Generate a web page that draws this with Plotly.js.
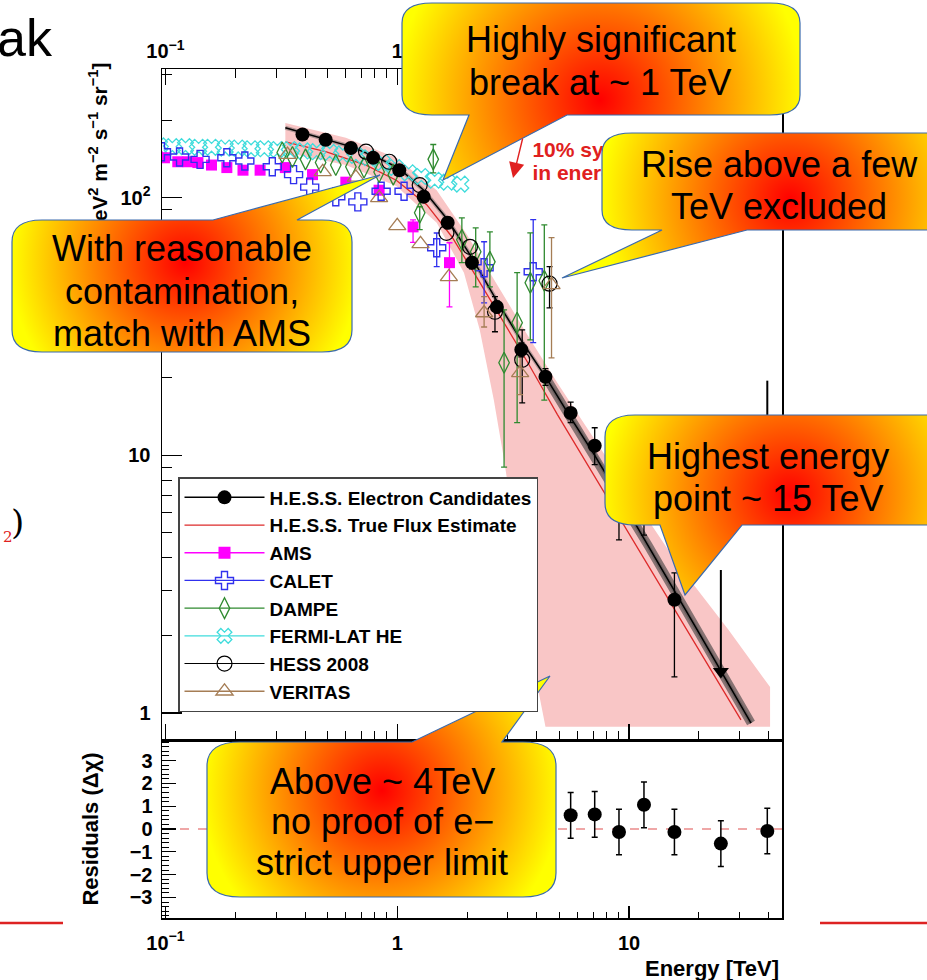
<!DOCTYPE html>
<html><head><meta charset="utf-8">
<script src="https://cdn.plot.ly/plotly-3.0.1.min.js"></script>
<style>html,body{margin:0;padding:0;background:#fff;}#chart{width:927px;height:980px;}</style>
</head><body><div id="chart"></div>
<script>
// ================= DATA =================
// H.E.S.S. electron candidates
const hessE = [0.390, 0.491, 0.631, 0.787, 1.02, 1.30, 1.65, 2.10, 2.69, 3.43, 4.36, 5.60, 7.11, 9.05, 11.6, 15.7];
const hessF = [176, 168, 156, 143, 128, 101, 80.0, 56.0, 37.7, 25.7, 20.2, 14.6, 10.9, 6.55, 5.9, 2.75];
const hessErrUp = [8, 7.5, 7, 6.5, 6, 5, 4, 3, 2, 1.6, 1.5, 1.5, 1.9, 2.3, 2.0, 0.75];
const hessErrDn = [8, 7.5, 7, 6.5, 6, 5, 4, 3, 2, 1.6, 1.5, 1.2, 1.7, 1.85, 1.0, 1.37];
// H.E.S.S. upper limits (arrows)
const hessUlE = [24.9, 39.5];
const hessUlFrom = [3.59, 19.5];
const hessUlTo = [1.45, 7.35];
// H.E.S.S. fit (black line) and true flux estimate (red line)
const fitE = [0.329, 0.390, 0.491, 0.631, 0.811, 1.02, 1.30, 1.65, 2.10, 2.69, 3.43, 4.36, 5.60, 7.11, 9.05, 12.1, 20.0, 33.6];
const fitF = [187, 179, 169, 158, 144, 130, 107, 82.2, 58.5, 39.8, 27.9, 20.2, 14.0, 10.0, 6.97, 4.46, 2.05, 0.914];
const trueE = [0.329, 0.491, 0.733, 0.99, 1.34, 1.72, 2.21, 2.83, 3.64, 4.91, 7.33, 12.1, 20.0, 30.4];
const trueF = [165, 151, 134, 117, 94.0, 70.6, 48.9, 33.6, 23.1, 14.4, 7.89, 3.72, 1.76, 0.94];
// systematic band (pink)
const sysUpperE = [0.329, 0.600, 0.99, 1.48, 2.0, 2.69, 3.64, 4.91, 8.96, 16.3, 26.9, 40.6];
const sysUpperF = [195, 171, 143, 107, 71.8, 45.9, 29.4, 19.1, 8.40, 3.76, 2.10, 1.26];
const sysLowerE = [40.6, 4.36, 3.90, 3.49, 3.16, 2.89, 2.61, 2.27, 1.94, 1.48, 0.99, 0.600, 0.329];
const sysLowerF = [0.883, 0.883, 1.47, 2.75, 5.62, 9.62, 16.4, 30.7, 51.2, 80, 111, 134, 150];
// AMS
const amsE = [0.0923, 0.099, 0.113, 0.125, 0.138, 0.158, 0.184, 0.216, 0.256, 0.329, 0.431, 0.600, 0.835, 1.17, 1.68];
const amsF = [144, 143, 138, 138, 137, 134, 131, 128, 128, 131, 123, 115, 107, 77.1, 56.0];
const amsErrUp = [NaN, NaN, NaN, NaN, NaN, NaN, NaN, NaN, NaN, NaN, NaN, NaN, NaN, 5, 10.9];
const amsErrDn = [NaN, NaN, NaN, NaN, NaN, NaN, NaN, NaN, NaN, NaN, NaN, NaN, NaN, 10, 18.3];
// CALET
const calE = [0.0961, 0.115, 0.141, 0.184, 0.220, 0.289, 0.357, 0.419, 0.543, 0.676, 0.852, 1.07, 1.48, 2.37, 3.86];
const calF = [151, 144, 141, 143, 139, 132, 123, 110, 101, 96.4, 106, 106, 64.0, 53.5, 51.6];
const calErrUp = [NaN, NaN, NaN, NaN, NaN, NaN, NaN, NaN, NaN, NaN, NaN, NaN, 9, 14, 30.6];
const calErrDn = [NaN, NaN, NaN, NaN, NaN, NaN, NaN, NaN, NaN, NaN, NaN, NaN, 10, 14.4, 24.2];
// DAMPE
const dampeE = [0.319, 0.353, 0.402, 0.467, 0.543, 0.631, 0.719, 0.835, 0.961, 1.25, 1.43, 1.90, 2.18, 2.51, 2.89, 3.29, 3.75, 4.31];
const dampeF = [150, 144, 141, 137, 134, 132, 131, 126, 123, 87.5, 141, 68.7, 61.7, 56.4, 22.9, 32.7, 46.8, 47.6];
const dampeErrUp = [NaN, NaN, NaN, NaN, NaN, NaN, NaN, NaN, NaN, 4.8, 20, 14.9, 14.7, 17.4, 13.8, 18.5, 26.3, 30.9];
const dampeErrDn = [NaN, NaN, NaN, NaN, NaN, NaN, NaN, NaN, NaN, 12.3, 16, 12.7, 16.6, 11.3, 13.9, 19.3, 18.7, 31.2];
// FERMI-LAT HE
const fermiE = [0.0942, 0.107, 0.122, 0.139, 0.158, 0.181, 0.206, 0.234, 0.267, 0.304, 0.346, 0.394, 0.449, 0.511, 0.582, 0.663, 0.755, 0.861, 0.980, 1.12, 1.27, 1.45, 1.65, 1.88];
const fermiF = [159, 158, 158, 157, 157, 156, 156, 155, 155, 154, 154, 152, 151, 150, 148, 146, 143, 137, 131, 125, 121, 117, 115, 113];
// HESS 2008
const hess08E = [0.733, 0.923, 1.25, 1.63, 2.06, 2.64, 3.46, 4.54];
const hess08F = [151, 138, 112, 73.1, 64.5, 36.1, 23.5, 46.4];
const hess08ErrUp = [NaN, NaN, NaN, NaN, NaN, 5.2, 7.2, 7.6];
const hess08ErrDn = [NaN, NaN, NaN, NaN, NaN, 5.9, 7.5, 9.0];
// VERITAS
const veritasE = [0.336, 0.477, 0.663, 0.835, 1.0, 1.26, 1.67, 2.37, 3.39, 4.63];
const veritasF = [147, 126, 120, 100, 77.8, 66.2, 49.3, 35.7, 20.9, 45.9];
const veritasErrUp = [NaN, NaN, NaN, NaN, NaN, NaN, NaN, 5.6, 3.6, 24.1];
const veritasErrDn = [NaN, NaN, NaN, NaN, NaN, NaN, NaN, 4.2, 3.7, 22.0];
// Residuals
const resE = [5.60, 7.11, 9.05, 11.6, 15.7, 24.9, 39.5];
const resV = [0.60, 0.64, -0.13, 1.06, -0.13, -0.64, -0.09];
const resErr = [1.0, 1.0, 1.0, 1.0, 1.0, 1.0, 1.0];
// labels
const legendNames = ['H.E.S.S. Electron Candidates', 'H.E.S.S. True Flux Estimate', 'AMS', 'CALET', 'DAMPE', 'FERMI-LAT HE', 'HESS 2008', 'VERITAS'];
const xTickVals = [0.1, 1, 10];
const xTickText = ['10<sup>−1</sup>', '1', '10'];
const yTickVals = [1, 10, 100];
const yTickText = ['1', '10', '10<sup>2</sup>'];
const resTickVals = [-3, -2, -1, 0, 1, 2, 3];
const resTickText = ['−3', '−2', '−1', '0', '1', '2', '3'];
const yTitleText = 'E<sup>3</sup> dN/dE [GeV<sup>2</sup> m<sup>−2</sup> s<sup>−1</sup> sr<sup>−1</sup>]';
const sysNoteE = [3.83, 3.83];
const sysNoteF = [151, 123];
const sysNoteText = ['10% systematic', 'in energy scale'];

// ================= STYLE / LAYOUT =================
const FONT = 'Liberation Sans, Arial, Helvetica, sans-serif';
const ML = 162, MR = 145, MT = 69, MB = 62, W = 927, H = 980;
const PW = W - ML - MR, PH = H - MT - MB;
const X = px => (px - ML) / PW;
const Y = py => (H - MB - py) / PH;
const split = Y(740);

const minorX = [];
[0.1, 1, 10].forEach(d => { for (let k = 2; k <= 9; k++) { const v = k * d; if (v < 46) minorX.push(+v.toPrecision(3)); } });
const minorY = [];
[1, 10, 100].forEach(d => { for (let k = 2; k <= 9; k++) { const v = k * d; if (v < 320) minorY.push(v); } });

const C = {
  hess: '#000000', red: '#dd2a2a', ams: '#ff00ff', calet: '#3030ee', dampe: '#2f8a2f',
  fermi: '#3fdcdc', hess08: '#000000', veritas: '#a57d55', band: '#f9c6c6'
};
function eb(up, dn, color, w) {
  return {type: 'data', symmetric: false, array: up, arrayminus: dn, color: color, thickness: 1.3, width: w};
}
const traces = [];
traces.push({x: sysUpperE.concat(sysLowerE), y: sysUpperF.concat(sysLowerF), mode: 'lines', fill: 'toself',
  fillcolor: C.band, line: {width: 0, color: C.band}, showlegend: false, hoverinfo: 'skip'});
traces.push({x: fitE, y: fitF, mode: 'lines', line: {color: 'rgba(90,90,90,0.45)', width: 4}, showlegend: false, hoverinfo: 'skip'});
traces.push({x: fitE.slice(11), y: fitF.slice(11), mode: 'lines', line: {color: 'rgba(60,60,60,0.6)', width: 9}, showlegend: false, hoverinfo: 'skip'});
traces.push({x: trueE, y: trueF, mode: 'lines', line: {color: C.red, width: 1.3}, showlegend: false});
traces.push({x: fitE, y: fitF, mode: 'lines', line: {color: '#000', width: 1.5}, showlegend: false});
traces.push({x: fermiE, y: fermiF, mode: 'markers', marker: {symbol: 'x-open', size: 14, color: C.fermi, line: {width: 1.3, color: C.fermi}}, showlegend: false});
traces.push({x: amsE, y: amsF, mode: 'markers', marker: {symbol: 'square', size: 11, color: C.ams}, error_y: eb(amsErrUp, amsErrDn, C.ams, 3), showlegend: false});
traces.push({x: calE, y: calF, mode: 'markers', marker: {symbol: 'cross-open', size: 15, color: C.calet, line: {width: 1.4, color: C.calet}}, error_y: eb(calErrUp, calErrDn, C.calet, 3), showlegend: false});
traces.push({x: dampeE, y: dampeF, mode: 'markers', marker: {symbol: 'diamond-tall-open', size: 15, color: C.dampe, line: {width: 1.3, color: C.dampe}}, error_y: eb(dampeErrUp, dampeErrDn, C.dampe, 3), showlegend: false});
traces.push({x: hess08E, y: hess08F, mode: 'markers', marker: {symbol: 'circle-open', size: 15, color: C.hess08, line: {width: 1.2, color: C.hess08}}, error_y: eb(hess08ErrUp, hess08ErrDn, C.hess08, 3), showlegend: false});
traces.push({x: veritasE, y: veritasF, mode: 'markers', marker: {symbol: 'triangle-up-open', size: 15, color: C.veritas, line: {width: 1.3, color: C.veritas}}, error_y: eb(veritasErrUp, veritasErrDn, C.veritas, 3), showlegend: false});
traces.push({x: hessE, y: hessF, mode: 'markers', marker: {symbol: 'circle', size: 14, color: '#000'}, error_y: eb(hessErrUp, hessErrDn, '#000', 3), showlegend: false});
const ulX = [], ulY = [];
hessUlE.forEach((e, i) => { ulX.push(e, e, null); ulY.push(hessUlFrom[i], hessUlTo[i], null); });
traces.push({x: ulX, y: ulY, mode: 'lines', line: {color: '#000', width: 2}, showlegend: false, connectgaps: false});
traces.push({x: hessUlE, y: hessUlTo, mode: 'markers', marker: {symbol: 'triangle-down', size: 14, color: '#000'}, showlegend: false});
traces.push({x: sysNoteE, y: sysNoteF, mode: 'text', text: sysNoteText, textposition: 'middle right',
  textfont: {family: FONT, size: 21, color: '#e02020', weight: 'bold'}, showlegend: false, hoverinfo: 'skip'});
traces.push({x: resE, y: resV, xaxis: 'x2', yaxis: 'y2', mode: 'markers', marker: {symbol: 'circle', size: 14, color: '#000'},
  error_y: {type: 'data', array: resErr, color: '#000', thickness: 1.5, width: 3}, showlegend: false});
traces.push({x: [null], y: [null], xaxis: 'x3', yaxis: 'y', showlegend: false, hoverinfo: 'skip'});
traces.push({x: [null], y: [null], xaxis: 'x', yaxis: 'y3', showlegend: false, hoverinfo: 'skip'});
const legStyles = [
  {mode: 'lines+markers', line: {color: '#000', width: 1.5}, marker: {symbol: 'circle', size: 14, color: '#000'}},
  {mode: 'lines', line: {color: C.red, width: 1.3}},
  {mode: 'lines+markers', line: {color: C.ams, width: 1.3}, marker: {symbol: 'square', size: 12, color: C.ams}},
  {mode: 'lines+markers', line: {color: C.calet, width: 1.3}, marker: {symbol: 'cross-open', size: 15, color: C.calet, line: {width: 1.4, color: C.calet}}},
  {mode: 'lines+markers', line: {color: C.dampe, width: 1.3}, marker: {symbol: 'diamond-tall-open', size: 15, color: C.dampe, line: {width: 1.3, color: C.dampe}}},
  {mode: 'lines+markers', line: {color: C.fermi, width: 1.3}, marker: {symbol: 'x-open', size: 13, color: C.fermi, line: {width: 1.3, color: C.fermi}}},
  {mode: 'lines+markers', line: {color: '#000', width: 1.1}, marker: {symbol: 'circle-open', size: 15, color: '#000', line: {width: 1.2, color: '#000'}}},
  {mode: 'lines+markers', line: {color: C.veritas, width: 1.3}, marker: {symbol: 'triangle-up-open', size: 15, color: C.veritas, line: {width: 1.3, color: C.veritas}}}
];
legendNames.forEach((n, i) => traces.push(Object.assign({x: [null], y: [null], name: n, showlegend: true, hoverinfo: 'skip'}, legStyles[i])));

// ---------- callout bubbles (gradient shapes as an SVG overlay; text stays as annotations) ----------
const bubbles = [
  {d: 'M432,3 H770 Q800,3 800,23 V95 Q800,115 770,115 H567 L443,180 L469,115 H432 Q402,115 402,95 V23 Q402,3 432,3 Z', cx: 600, cy: 100, r: 205},
  {d: 'M632,133 H950 Q980,133 980,153 V210 Q980,230 950,230 H747 L562,278 L662,230 H632 Q602,230 602,210 V153 Q602,133 632,133 Z', cx: 790, cy: 200, r: 190},
  {d: 'M42,220 H213 L380,175 L297,220 H322 Q352,220 352,242 V330 Q352,352 322,352 H42 Q12,352 12,330 V242 Q12,220 42,220 Z', cx: 185, cy: 262, r: 175},
  {d: 'M635,415 H950 Q980,415 980,437 V503 Q980,525 950,525 H742 L685,595 L660,525 H635 Q605,525 605,503 V437 Q605,415 635,415 Z', cx: 790, cy: 495, r: 190},
  {d: 'M240,742 H412 L550,676 L502,742 H523 Q556,742 556,766 V873 Q556,897 523,897 H240 Q207,897 207,873 V766 Q207,742 240,742 Z', cx: 382, cy: 790, r: 180}
];
let svg = '<svg xmlns="http://www.w3.org/2000/svg" width="927" height="980" viewBox="0 0 927 980"><defs>';
bubbles.forEach((b, i) => {
  svg += '<radialGradient id="g' + i + '" gradientUnits="userSpaceOnUse" cx="' + b.cx + '" cy="' + b.cy + '" r="' + b.r + '">' +
    '<stop offset="0" stop-color="#ff0000"/><stop offset="1" stop-color="#ffff00"/></radialGradient>';
});
svg += '</defs>';
bubbles.forEach((b, i) => { svg += '<path d="' + b.d + '" fill="url(#g' + i + ')" stroke="#3a6aae" stroke-width="1.2"/>'; });
svg += '</svg>';
const svgUri = 'data:image/svg+xml;charset=utf-8,' + encodeURIComponent(svg);

const bubbleText = [
  ['Highly significant', 601, 40], ['break at ~ 1 TeV', 600, 82],
  ['Rise above a few', 779, 164], ['TeV excluded', 779, 206],
  ['With reasonable', 182, 248], ['contamination,', 182, 291], ['match with AMS', 182, 333],
  ['Highest energy', 768, 456], ['point ~ 15 TeV', 768, 498],
  ['Above ~ 4TeV', 382, 781], ['no proof of e−', 382, 821], ['strict upper limit', 382, 862]
];
const annotations = bubbleText.map(t => ({xref: 'paper', yref: 'paper', x: X(t[1]), y: Y(t[2]), xanchor: 'center', yanchor: 'middle',
  text: t[0], showarrow: false, font: {family: FONT, size: 36, color: '#000'}}));
annotations.push({xref: 'paper', yref: 'paper', x: X(781), y: Y(968), xanchor: 'right', yanchor: 'middle', text: 'Energy [TeV]',
  showarrow: false, font: {family: FONT, size: 22, color: '#000', weight: 'bold'}});
annotations.push({xref: 'paper', yref: 'paper', x: X(-5), y: Y(38), xanchor: 'left', yanchor: 'middle', text: 'ak',
  showarrow: false, font: {family: FONT, size: 52, color: '#000'}});
annotations.push({xref: 'paper', yref: 'paper', x: X(17), y: Y(522), xanchor: 'center', yanchor: 'middle', text: ')',
  showarrow: false, font: {family: 'DejaVu Serif, serif', size: 34, color: '#000'}});
annotations.push({xref: 'paper', yref: 'paper', x: X(8), y: Y(537), xanchor: 'center', yanchor: 'middle', text: '2',
  showarrow: false, font: {family: 'DejaVu Serif, serif', size: 15, color: '#e02020'}});
annotations.push({xref: 'paper', yref: 'paper', x: X(513), y: Y(178), ax: 10, ay: -41, text: '', showarrow: true,
  arrowhead: 2, arrowsize: 2.2, arrowwidth: 1.4, arrowcolor: '#e02020'});

const tickFont = {family: FONT, size: 20, color: '#000', weight: 'bold'};
const axisBase = {showgrid: false, zeroline: false, showline: true, linecolor: '#000', linewidth: 1.5, tickcolor: '#000', tickwidth: 1.2};
const xr = [-1.015, 1.66];

const layout = {
  width: W, height: H, margin: {l: ML, r: MR, t: MT, b: MB, pad: 0},
  paper_bgcolor: '#fff', plot_bgcolor: 'rgba(0,0,0,0)', showlegend: true,
  xaxis: Object.assign({}, axisBase, {type: 'log', range: xr, domain: [0, 1], anchor: 'y', showticklabels: false,
    ticks: 'inside', ticklen: 16, tickmode: 'array', tickvals: xTickVals, mirror: 'ticks',
    minor: {ticks: 'inside', ticklen: 9, tickmode: 'array', tickvals: minorX, tickcolor: '#000', tickwidth: 1, showgrid: false}}),
  yaxis: Object.assign({}, axisBase, {type: 'log', range: [-0.105, 2.50], domain: [split, 1], anchor: 'x',
    ticks: 'inside', ticklen: 20, tickmode: 'array', tickvals: yTickVals, ticktext: yTickText, tickfont: tickFont, mirror: true,
    ticklabelstandoff: 6,
    minor: {ticks: 'inside', ticklen: 10, tickmode: 'array', tickvals: minorY, tickcolor: '#000', tickwidth: 1, showgrid: false}}),
  xaxis2: Object.assign({}, axisBase, {type: 'log', range: xr, domain: [0, 1], anchor: 'y2',
    ticks: 'inside', ticklen: 12, tickmode: 'array', tickvals: xTickVals, ticktext: xTickText, tickfont: tickFont, mirror: true,
    ticklabelstandoff: 6,
    minor: {ticks: 'inside', ticklen: 6, tickmode: 'array', tickvals: minorX, tickcolor: '#000', tickwidth: 1, showgrid: false}}),
  yaxis2: Object.assign({}, axisBase, {range: [-3.9, 3.9], domain: [0, split], anchor: 'x2',
    ticks: 'inside', ticklen: 14, tickmode: 'array', tickvals: resTickVals, ticktext: resTickText, tickfont: tickFont, mirror: true,
    ticklabelstandoff: 4,
    minor: {ticks: 'inside', ticklen: 7, dtick: 0.2, tick0: 0, tickcolor: '#000', tickwidth: 1, showgrid: false},
    title: {text: 'Residuals (Δχ)', font: {family: FONT, size: 22, color: '#000', weight: 'bold'}, standoff: 25}}),
  xaxis3: {type: 'log', range: xr, overlaying: 'x', anchor: 'y', side: 'top', showgrid: false, zeroline: false, showline: false,
    ticks: '', tickmode: 'array', tickvals: xTickVals, ticktext: xTickText, tickfont: tickFont, ticklabelstandoff: 6},
  // holder axis whose single rotated label carries the y title (so it sits under the callouts)
  yaxis3: {domain: [0.791, 0.891], anchor: 'x', range: [0, 1], showgrid: false, zeroline: false, showline: false, ticks: '',
    tickmode: 'array', tickvals: [0.5], ticktext: [yTitleText], tickangle: -90, ticklabelstandoff: 50,
    tickfont: {family: FONT, size: 21, color: '#000', weight: 'bold'}},
  legend: {x: X(178), y: Y(477), xanchor: 'left', yanchor: 'top', bgcolor: '#fff', bordercolor: '#444', borderwidth: 1.5,
    font: {family: FONT, size: 19, color: '#000', weight: 'bold'}, itemwidth: 80, tracegroupgap: 0, traceorder: 'normal'},
  shapes: [
    {type: 'line', xref: 'paper', yref: 'y2', x0: 0, x1: 1, y0: 0, y1: 0, line: {color: '#e05050', width: 1.2, dash: 'dash'}, layer: 'below'},
    {type: 'line', xref: 'paper', yref: 'paper', x0: X(0), x1: X(63), y0: Y(923), y1: Y(923), line: {color: '#dd2222', width: 2.5}},
    {type: 'line', xref: 'paper', yref: 'paper', x0: X(820), x1: X(927), y0: Y(923), y1: Y(923), line: {color: '#dd2222', width: 2.5}}
  ],
  images: [{source: svgUri, xref: 'paper', yref: 'paper', x: X(0), y: Y(0), sizex: W / PW, sizey: H / PH,
    xanchor: 'left', yanchor: 'top', sizing: 'stretch', layer: 'above'}],
  annotations: annotations
};

Plotly.newPlot('chart', traces, layout, {displayModeBar: false, staticPlot: true});
</script>
</body></html>
